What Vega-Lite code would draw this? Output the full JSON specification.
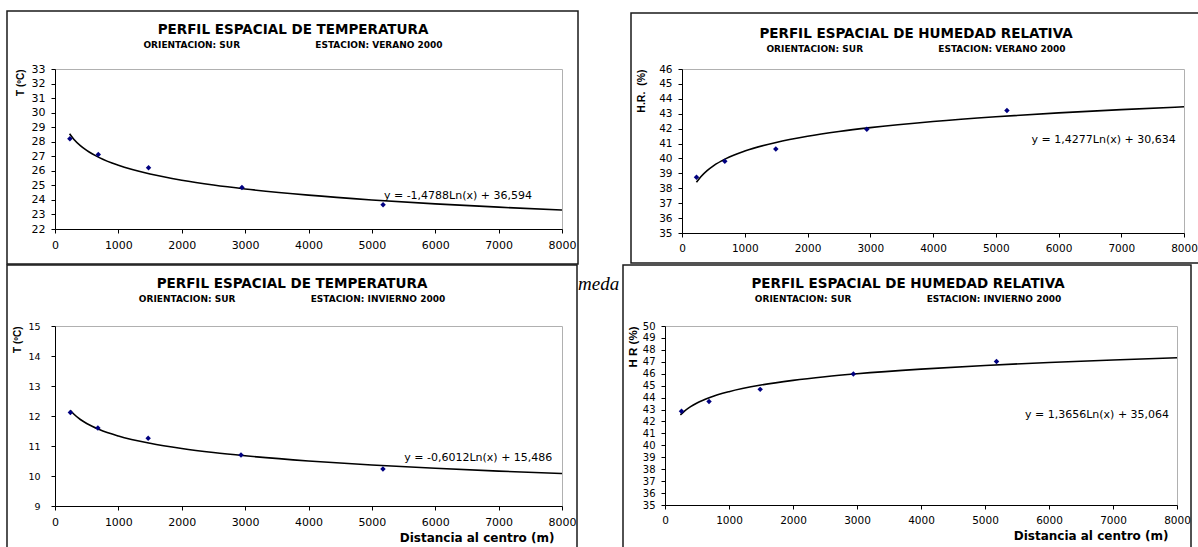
{
  "$schema": "https://vega.github.io/schema/vega-lite/v6.json",
  "background": "white",
  "padding": {"left": 5, "top": 9, "right": 0, "bottom": 0},
  "datasets": {
    "pts": [
      {"p": "TV", "x": 235, "y": 28.2}, {"p": "TV", "x": 683, "y": 27.12}, {"p": "TV", "x": 1476, "y": 26.21}, {"p": "TV", "x": 2950, "y": 24.86}, {"p": "TV", "x": 5177, "y": 23.66},
      {"p": "HV", "x": 231, "y": 38.74}, {"p": "HV", "x": 682, "y": 39.81}, {"p": "HV", "x": 1495, "y": 40.63}, {"p": "HV", "x": 2945, "y": 41.96}, {"p": "HV", "x": 5178, "y": 43.21},
      {"p": "TI", "x": 243, "y": 12.12}, {"p": "TI", "x": 677, "y": 11.6}, {"p": "TI", "x": 1470, "y": 11.26}, {"p": "TI", "x": 2935, "y": 10.7}, {"p": "TI", "x": 5175, "y": 10.23},
      {"p": "HI", "x": 258, "y": 42.86}, {"p": "HI", "x": 688, "y": 43.68}, {"p": "HI", "x": 1487, "y": 44.69}, {"p": "HI", "x": 2943, "y": 45.98}, {"p": "HI", "x": 5180, "y": 47.02}
    ],
    "trend": [
      {"p": "TV", "x": 230, "y": 28.552}, {"p": "TV", "x": 300, "y": 28.159}, {"p": "TV", "x": 400, "y": 27.734}, {"p": "TV", "x": 500, "y": 27.404}, {"p": "TV", "x": 700, "y": 26.906}, {"p": "TV", "x": 1000, "y": 26.379}, {"p": "TV", "x": 1500, "y": 25.779}, {"p": "TV", "x": 2000, "y": 25.354}, {"p": "TV", "x": 2500, "y": 25.024}, {"p": "TV", "x": 3000, "y": 24.754}, {"p": "TV", "x": 4000, "y": 24.329}, {"p": "TV", "x": 5000, "y": 23.999}, {"p": "TV", "x": 6000, "y": 23.729}, {"p": "TV", "x": 7000, "y": 23.501}, {"p": "TV", "x": 8000, "y": 23.304},
      {"p": "HV", "x": 230, "y": 38.398}, {"p": "HV", "x": 300, "y": 38.777}, {"p": "HV", "x": 400, "y": 39.188}, {"p": "HV", "x": 500, "y": 39.507}, {"p": "HV", "x": 700, "y": 39.987}, {"p": "HV", "x": 1000, "y": 40.496}, {"p": "HV", "x": 1500, "y": 41.075}, {"p": "HV", "x": 2000, "y": 41.486}, {"p": "HV", "x": 2500, "y": 41.804}, {"p": "HV", "x": 3000, "y": 42.065}, {"p": "HV", "x": 4000, "y": 42.475}, {"p": "HV", "x": 5000, "y": 42.794}, {"p": "HV", "x": 6000, "y": 43.054}, {"p": "HV", "x": 7000, "y": 43.274}, {"p": "HV", "x": 8000, "y": 43.465},
      {"p": "TI", "x": 240, "y": 12.191}, {"p": "TI", "x": 300, "y": 12.057}, {"p": "TI", "x": 400, "y": 11.884}, {"p": "TI", "x": 500, "y": 11.75}, {"p": "TI", "x": 700, "y": 11.548}, {"p": "TI", "x": 1000, "y": 11.333}, {"p": "TI", "x": 1500, "y": 11.089}, {"p": "TI", "x": 2000, "y": 10.916}, {"p": "TI", "x": 2500, "y": 10.782}, {"p": "TI", "x": 3000, "y": 10.673}, {"p": "TI", "x": 4000, "y": 10.5}, {"p": "TI", "x": 5000, "y": 10.366}, {"p": "TI", "x": 6000, "y": 10.256}, {"p": "TI", "x": 7000, "y": 10.163}, {"p": "TI", "x": 8000, "y": 10.083},
      {"p": "HI", "x": 240, "y": 42.548}, {"p": "HI", "x": 300, "y": 42.853}, {"p": "HI", "x": 400, "y": 43.246}, {"p": "HI", "x": 500, "y": 43.551}, {"p": "HI", "x": 700, "y": 44.01}, {"p": "HI", "x": 1000, "y": 44.497}, {"p": "HI", "x": 1500, "y": 45.051}, {"p": "HI", "x": 2000, "y": 45.444}, {"p": "HI", "x": 2500, "y": 45.749}, {"p": "HI", "x": 3000, "y": 45.998}, {"p": "HI", "x": 4000, "y": 46.39}, {"p": "HI", "x": 5000, "y": 46.695}, {"p": "HI", "x": 6000, "y": 46.944}, {"p": "HI", "x": 7000, "y": 47.155}, {"p": "HI", "x": 8000, "y": 47.337}
    ],
    "eq": [
      {"p": "TV", "label": "y = -1,4788Ln(x) + 36,594", "x": 5190, "y": 24.24},
      {"p": "HV", "label": "y = 1,4277Ln(x) + 30,634", "x": 5571, "y": 41.22},
      {"p": "TI", "label": "y = -0,6012Ln(x) + 15,486", "x": 5511, "y": 10.61},
      {"p": "HI", "label": "y = 1,3656Ln(x) + 35,064", "x": 5625, "y": 42.58}
    ]
  },
  "spacing": -3,
  "vconcat": [
    {
      "spacing": 49,
      "hconcat": [
        {
          "width": 507, "height": 160,
          "title": {"text": "PERFIL ESPACIAL DE TEMPERATURA", "subtitle": "ORIENTACION: SUR\u00a0\u00a0\u00a0\u00a0\u00a0\u00a0\u00a0\u00a0\u00a0\u00a0\u00a0\u00a0\u00a0\u00a0\u00a0\u00a0\u00a0\u00a0\u00a0\u00a0\u00a0\u00a0\u00a0\u00a0ESTACION: VERANO 2000", "dx": -15.5, "offset": -40, "frame": "group"},
          "encoding": {
            "x": {"field": "x", "type": "quantitative", "scale": {"domain": [0, 8000], "nice": false, "zero": false}, "axis": {"values": [0, 1000, 2000, 3000, 4000, 5000, 6000, 7000, 8000], "format": "d", "title": null, "labelPadding": 6, "labelOverlap": false, "labelFlush": false}},
            "y": {"field": "y", "type": "quantitative", "scale": {"domain": [22, 33], "nice": false, "zero": false}, "axis": {"values": [22, 23, 24, 25, 26, 27, 28, 29, 30, 31, 32, 33], "format": "d", "labelOverlap": false, "title": "T (ºC)", "titleFontSize": 10, "titlePadding": 6, "labelPadding": 6, "labelFontSize": 11}}
          },
          "layer": [
            {"data": {"name": "eq"}, "transform": [{"filter": "datum.p === 'TV'"}], "mark": {"type": "rect", "fillOpacity": 0, "stroke": "#1a1a1a", "strokeWidth": 1.5}, "encoding": {"x": {"datum": -757.4, "type": "quantitative"}, "x2": {"datum": 8252.5}, "y": {"datum": 36.99, "type": "quantitative"}, "y2": {"datum": 19.59}}},
            {"data": {"name": "trend"}, "transform": [{"filter": "datum.p === 'TV'"}], "mark": {"type": "line", "color": "#000000", "strokeWidth": 1.6, "interpolate": "monotone"}},
            {"data": {"name": "pts"}, "transform": [{"filter": "datum.p === 'TV'"}], "mark": {"type": "point", "shape": "diamond", "filled": true, "color": "#000080", "size": 30, "opacity": 1}},
            {"data": {"name": "eq"}, "transform": [{"filter": "datum.p === 'TV'"}], "mark": {"type": "text", "align": "left", "baseline": "middle", "fontSize": 11, "font": "DejaVu Sans", "color": "#000000"}, "encoding": {"text": {"field": "label"}}}
          ]
        },
        {
          "width": 502, "height": 164,
          "title": {"text": "PERFIL ESPACIAL DE HUMEDAD RELATIVA", "subtitle": "ORIENTACION: SUR\u00a0\u00a0\u00a0\u00a0\u00a0\u00a0\u00a0\u00a0\u00a0\u00a0\u00a0\u00a0\u00a0\u00a0\u00a0\u00a0\u00a0\u00a0\u00a0\u00a0\u00a0\u00a0\u00a0\u00a0ESTACION: VERANO 2000", "dx": -17, "offset": -42, "frame": "group"},
          "encoding": {
            "x": {"field": "x", "type": "quantitative", "scale": {"domain": [0, 8000], "nice": false, "zero": false}, "axis": {"values": [0, 1000, 2000, 3000, 4000, 5000, 6000, 7000, 8000], "format": "d", "title": null, "labelPadding": 6, "labelOverlap": false, "labelFlush": false, "labelFontSize": 10.5}},
            "y": {"field": "y", "type": "quantitative", "scale": {"domain": [35, 46], "nice": false, "zero": false}, "axis": {"values": [35, 36, 37, 38, 39, 40, 41, 42, 43, 44, 45, 46], "format": "d", "labelOverlap": false, "title": "H.R.\u00a0\u00a0(%)", "titleFontSize": 10.5, "titlePadding": 12, "labelPadding": 6, "labelFontSize": 10.5}}
          },
          "layer": [
            {"data": {"name": "eq"}, "transform": [{"filter": "datum.p === 'HV'"}], "mark": {"type": "rect", "fillOpacity": 0, "stroke": "#1a1a1a", "strokeWidth": 1.5}, "encoding": {"x": {"datum": -812.7, "type": "quantitative"}, "x2": {"datum": 8335}, "y": {"datum": 49.76, "type": "quantitative"}, "y2": {"datum": 32.99}}},
            {"data": {"name": "trend"}, "transform": [{"filter": "datum.p === 'HV'"}], "mark": {"type": "line", "color": "#000000", "strokeWidth": 1.6, "interpolate": "monotone"}},
            {"data": {"name": "pts"}, "transform": [{"filter": "datum.p === 'HV'"}], "mark": {"type": "point", "shape": "diamond", "filled": true, "color": "#000080", "size": 30, "opacity": 1}},
            {"data": {"name": "eq"}, "transform": [{"filter": "datum.p === 'HV'"}], "mark": {"type": "text", "align": "left", "baseline": "middle", "fontSize": 11, "font": "DejaVu Sans", "color": "#000000"}, "encoding": {"text": {"field": "label"}}}
          ]
        }
      ]
    },
    {
      "spacing": -2,
      "hconcat": [
        {
          "width": 507, "height": 180,
          "title": {"text": "PERFIL ESPACIAL DE TEMPERATURA", "subtitle": "ORIENTACION: SUR\u00a0\u00a0\u00a0\u00a0\u00a0\u00a0\u00a0\u00a0\u00a0\u00a0\u00a0\u00a0\u00a0\u00a0\u00a0\u00a0\u00a0\u00a0\u00a0\u00a0\u00a0\u00a0\u00a0\u00a0ESTACION: INVIERNO 2000", "dx": -16.5, "offset": -40, "frame": "group"},
          "encoding": {
            "x": {"field": "x", "type": "quantitative", "scale": {"domain": [0, 8000], "nice": false, "zero": false}, "axis": {"values": [0, 1000, 2000, 3000, 4000, 5000, 6000, 7000, 8000], "format": "d", "labelOverlap": false, "labelFlush": false, "title": "Distancia al centro (m)", "titleAnchor": "end", "titleAlign": "right", "titleX": 499, "titleFont": "DejaVu Sans", "titleFontSize": 12, "titlePadding": 5, "labelPadding": 6}},
            "y": {"field": "y", "type": "quantitative", "scale": {"domain": [9, 15], "nice": false, "zero": false}, "axis": {"values": [9, 10, 11, 12, 13, 14, 15], "format": "d", "labelOverlap": false, "title": "T (ºC)", "titleFontSize": 10, "titlePadding": 5, "labelPadding": 11, "labelFontSize": 9.5}}
          },
          "layer": [
            {"data": {"name": "eq"}, "transform": [{"filter": "datum.p === 'TI'"}], "mark": {"type": "rect", "fillOpacity": 0, "stroke": "#1a1a1a", "strokeWidth": 1.5}, "encoding": {"x": {"datum": -757.4, "type": "quantitative"}, "x2": {"datum": 8236.7}, "y": {"datum": 17.033, "type": "quantitative"}, "y2": {"datum": 7.433}}},
            {"data": {"name": "trend"}, "transform": [{"filter": "datum.p === 'TI'"}], "mark": {"type": "line", "color": "#000000", "strokeWidth": 1.6, "interpolate": "monotone"}},
            {"data": {"name": "pts"}, "transform": [{"filter": "datum.p === 'TI'"}], "mark": {"type": "point", "shape": "diamond", "filled": true, "color": "#000080", "size": 30, "opacity": 1}},
            {"data": {"name": "eq"}, "transform": [{"filter": "datum.p === 'TI'"}], "mark": {"type": "text", "align": "left", "baseline": "middle", "fontSize": 11, "font": "DejaVu Sans", "color": "#000000"}, "encoding": {"text": {"field": "label"}}}
          ]
        },
        {
          "width": 512, "height": 179,
          "title": {"text": "PERFIL ESPACIAL DE HUMEDAD RELATIVA", "subtitle": "ORIENTACION: SUR\u00a0\u00a0\u00a0\u00a0\u00a0\u00a0\u00a0\u00a0\u00a0\u00a0\u00a0\u00a0\u00a0\u00a0\u00a0\u00a0\u00a0\u00a0\u00a0\u00a0\u00a0\u00a0\u00a0\u00a0ESTACION: INVIERNO 2000", "dx": -13, "offset": -40, "frame": "group"},
          "encoding": {
            "x": {"field": "x", "type": "quantitative", "scale": {"domain": [0, 8000], "nice": false, "zero": false}, "axis": {"values": [0, 1000, 2000, 3000, 4000, 5000, 6000, 7000, 8000], "format": "d", "labelOverlap": false, "labelFlush": false, "labelFontSize": 10.5, "title": "Distancia al centro (m)", "titleAnchor": "end", "titleAlign": "right", "titleX": 503, "titleFont": "DejaVu Sans", "titleFontSize": 12, "titlePadding": 5, "labelPadding": 6}},
            "y": {"field": "y", "type": "quantitative", "scale": {"domain": [35, 50], "nice": false, "zero": false}, "axis": {"values": [35, 36, 37, 38, 39, 40, 41, 42, 43, 44, 45, 46, 47, 48, 49, 50], "format": "d", "labelOverlap": false, "title": "H R (%)", "titleFontSize": 11.5, "titlePadding": 4, "labelPadding": 6, "labelFontSize": 10}}
          },
          "layer": [
            {"data": {"name": "eq"}, "transform": [{"filter": "datum.p === 'HI'"}], "mark": {"type": "text", "align": "left", "baseline": "middle", "font": "Liberation Serif", "fontStyle": "italic", "fontSize": 19, "color": "#000000"}, "encoding": {"x": {"datum": -1359, "type": "quantitative"}, "y": {"datum": 53.52, "type": "quantitative"}, "text": {"value": "meda"}}},
            {"data": {"name": "eq"}, "transform": [{"filter": "datum.p === 'HI'"}], "mark": {"type": "rect", "fillOpacity": 0, "stroke": "#1a1a1a", "strokeWidth": 1.5}, "encoding": {"x": {"datum": -656.25, "type": "quantitative"}, "x2": {"datum": 8218.75}, "y": {"datum": 55.112, "type": "quantitative"}, "y2": {"datum": 30.98}}},
            {"data": {"name": "trend"}, "transform": [{"filter": "datum.p === 'HI'"}], "mark": {"type": "line", "color": "#000000", "strokeWidth": 1.6, "interpolate": "monotone"}},
            {"data": {"name": "pts"}, "transform": [{"filter": "datum.p === 'HI'"}], "mark": {"type": "point", "shape": "diamond", "filled": true, "color": "#000080", "size": 30, "opacity": 1}},
            {"data": {"name": "eq"}, "transform": [{"filter": "datum.p === 'HI'"}], "mark": {"type": "text", "align": "left", "baseline": "middle", "fontSize": 11, "font": "DejaVu Sans", "color": "#000000"}, "encoding": {"text": {"field": "label"}}}
          ]
        }
      ]
    }
  ],
  "config": {
    "font": "DejaVu Sans",
    "view": {"stroke": "#b0b0b0", "strokeWidth": 1},
    "axis": {"grid": false, "domainColor": "#000000", "domainWidth": 1, "tickColor": "#000000", "tickWidth": 1, "tickSize": 4, "labelColor": "#000000", "labelFont": "DejaVu Sans", "labelFontSize": 11, "titleColor": "#000000", "titleFont": "Liberation Sans", "titleFontWeight": "bold"},
    "axisY": {"titleAnchor": "end", "titleAngle": -90},
    "title": {"font": "DejaVu Sans", "fontSize": 13.5, "fontWeight": "bold", "color": "#000000", "subtitleFont": "DejaVu Sans", "subtitleFontSize": 9, "subtitleFontWeight": "bold", "subtitleColor": "#000000", "subtitlePadding": 5, "anchor": "middle"}
  }
}
